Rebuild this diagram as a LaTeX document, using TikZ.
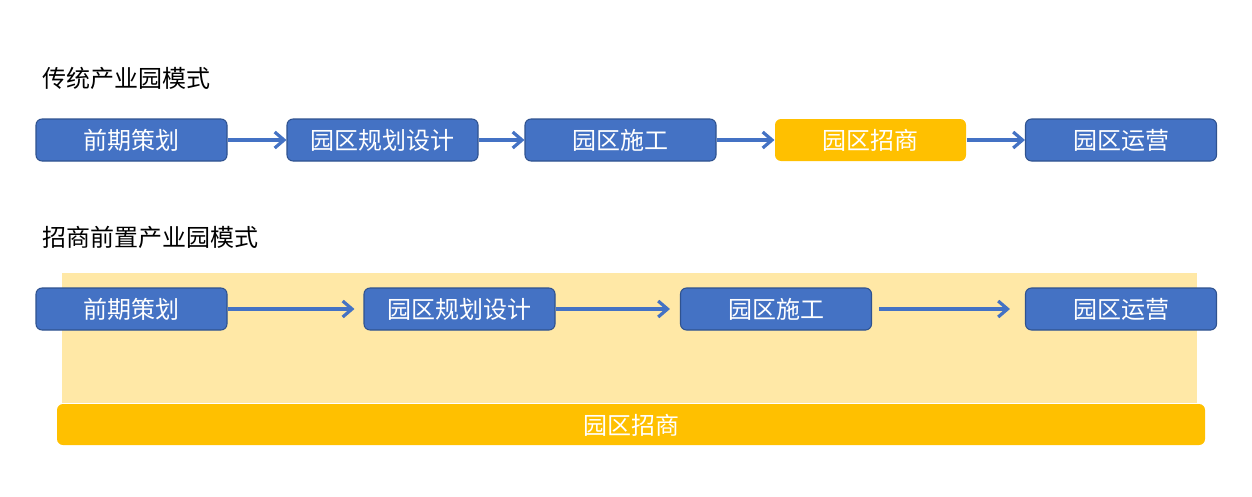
\documentclass[tikz,border=0pt]{standalone}
\usepackage{fontspec}
\setmainfont{Noto Sans CJK SC}
\usetikzlibrary{arrows.meta}
\definecolor{bblue}{HTML}{4472C4}
\definecolor{bborder}{HTML}{2F528F}
\definecolor{gold}{HTML}{FFC000}
\definecolor{lgold}{HTML}{FFE8A6}
\tikzset{
  stepbox/.style={draw=bborder, line width=0.8pt, fill=bblue, rounded corners=4.5pt,
    minimum width=191*0.75pt, minimum height=42*0.75pt, inner sep=0pt,
    text=white, font=\fontsize{18}{21}\selectfont},
  goldbox/.style={stepbox, draw=none, fill=gold},
  flow/.style={draw=bblue, line width=2.6pt, -{Straight Barb[length=7pt,width=12pt,line width=2.4pt]}},
  title/.style={anchor=west, inner sep=0pt, font=\fontsize{18}{21}\selectfont}
}
\begin{document}
\begin{tikzpicture}[x=0.75pt,y=-0.75pt]
\useasboundingbox (0,0) rectangle (1252,496);
\fill[white] (0,0) rectangle (1252,496);
% titles
\node[title] (t1) at (42,78) {传统产业园模式};
\node[title] (t2) at (42,237) {招商前置产业园模式};
% row 1
\node[stepbox] (a1) at (131.5,140) {前期策划};
\node[stepbox] (a2) at (382.5,140) {园区规划设计};
\node[stepbox] (a3) at (620.5,140) {园区施工};
\node[goldbox] (a4) at (870.5,140) {园区招商};
\node[stepbox] (a5) at (1121,140) {园区运营};
\draw[flow] (a1) -- (a2);
\draw[flow] (a2) -- (a3);
\draw[flow] (a3) -- (a4);
\draw[flow] (a4) -- (a5);
% row 2
\fill[lgold] (62,273) rectangle (1197,403);
\fill[gold, rounded corners=4.5pt] (57,404) rectangle (1205,445);
\node[text=white, font=\fontsize{18}{21}\selectfont] (bar) at (631,425) {园区招商};
\node[stepbox] (b1) at (131.5,309) {前期策划};
\node[stepbox] (b2) at (459.5,309) {园区规划设计};
\node[stepbox] (b3) at (776,309) {园区施工};
\node[stepbox] (b4) at (1121,309) {园区运营};
\draw[flow, shorten >=9*0.75pt] (b1) -- (b2);
\draw[flow, shorten >=10*0.75pt] (b2) -- (b3);
\draw[flow, shorten <=7*0.75pt, shorten >=15*0.75pt] (b3) -- (b4);
\end{tikzpicture}
\end{document}
